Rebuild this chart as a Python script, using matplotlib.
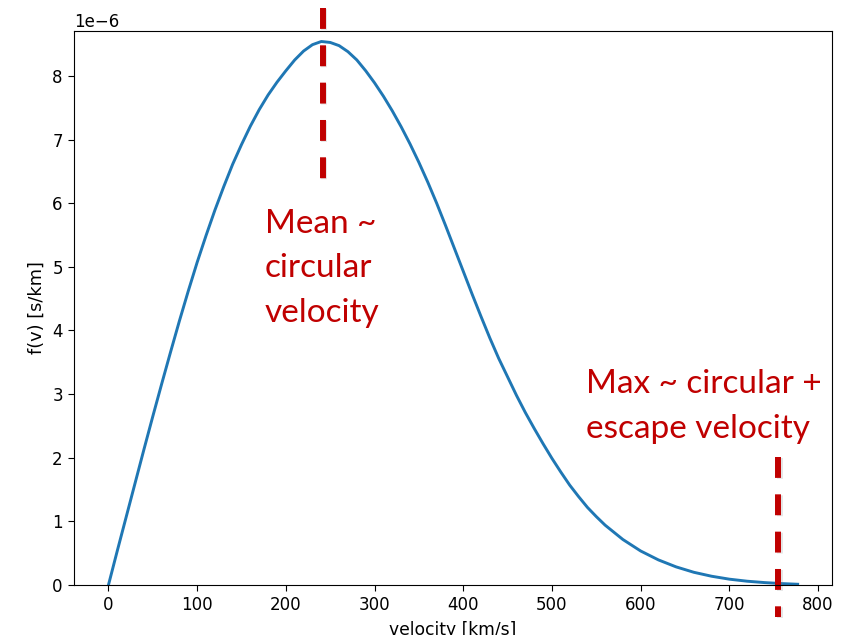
import numpy as np
import matplotlib.pyplot as plt
import matplotlib.patheffects as pe

# speed distribution f(v), in units of 1e-6 s/km
v = [0, 10, 20, 30, 40, 50, 60, 70, 80, 90, 100, 110, 120, 130, 140, 150,
     160, 170, 180, 190, 200, 210, 220, 230, 240, 250, 260, 270, 280, 290,
     300, 310, 320, 330, 340, 350, 360, 370, 380, 390, 400, 410, 420, 430,
     440, 450, 460, 470, 480, 490, 500, 510, 520, 530, 540, 550, 560, 580,
     600, 620, 640, 660, 680, 700, 720, 740, 760, 777]
f = [0.0, 0.54, 1.07, 1.60, 2.13, 2.65, 3.16, 3.66, 4.15, 4.62, 5.07, 5.49,
     5.89, 6.26, 6.61, 6.92, 7.21, 7.47, 7.70, 7.90, 8.08, 8.25, 8.39, 8.49,
     8.54, 8.525, 8.475, 8.38, 8.25, 8.08, 7.89, 7.68, 7.45, 7.20, 6.93,
     6.64, 6.33, 6.00, 5.65, 5.29, 4.93, 4.57, 4.22, 3.88, 3.56, 3.27, 2.98,
     2.71, 2.46, 2.22, 1.99, 1.775, 1.57, 1.39, 1.22, 1.075, 0.94, 0.715,
     0.535, 0.395, 0.285, 0.20, 0.138, 0.092, 0.06, 0.038, 0.022, 0.012]

v_mean = 241.5
v_max = 755
red = '#C00000'

plt.rcParams['font.size'] = 12
plt.rcParams['xtick.major.size'] = 4.5
plt.rcParams['ytick.major.size'] = 4.5

fig = plt.figure(figsize=(8.5, 6.35), dpi=100)
ax = fig.add_axes([0.087, 0.0787, 0.892, 0.873])

ax.plot(v, np.array(f) * 1e-6, color='#1f77b4', lw=2.1)
ax.set_xlim(-38.9, 815.9)
ax.set_ylim(0, 8.71e-6)
ax.set_xlabel('velocity [km/s]', fontsize=12.3, labelpad=4.8)
ax.set_ylabel('f(v) [s/km]', fontsize=12.8, labelpad=5)

# dashed markers for the mean and the cut-off speed
shadow = [pe.SimpleLineShadow(offset=(1, -1), shadow_color='gray', alpha=0.2),
          pe.Normal()]
ax.plot([v_mean, v_mean], [9.07e-6, 6.38e-6], color=red, lw=4.3,
        ls=(0, (3.5, 2.75)), clip_on=False, path_effects=shadow)
ax.plot([v_max, v_max], [2.01e-6, -0.5e-6], color=red, lw=4.3,
        ls=(0, (3.5, 2.75)), clip_on=False, path_effects=shadow)

mean_lines = ['Mean ~', 'circular', 'velocity']
for i, s in enumerate(mean_lines):
    ax.text(176, (5.53 - 0.695 * i) * 1e-6, s, color=red, fontsize=24,
            family='Lato', va='baseline')

max_lines = ['Max ~ circular +', 'escape velocity']
for i, s in enumerate(max_lines):
    ax.text(538, (3.01 - 0.70 * i) * 1e-6, s, color=red, fontsize=24,
            family='Lato', va='baseline')

fig.savefig('out.png', dpi=100)
